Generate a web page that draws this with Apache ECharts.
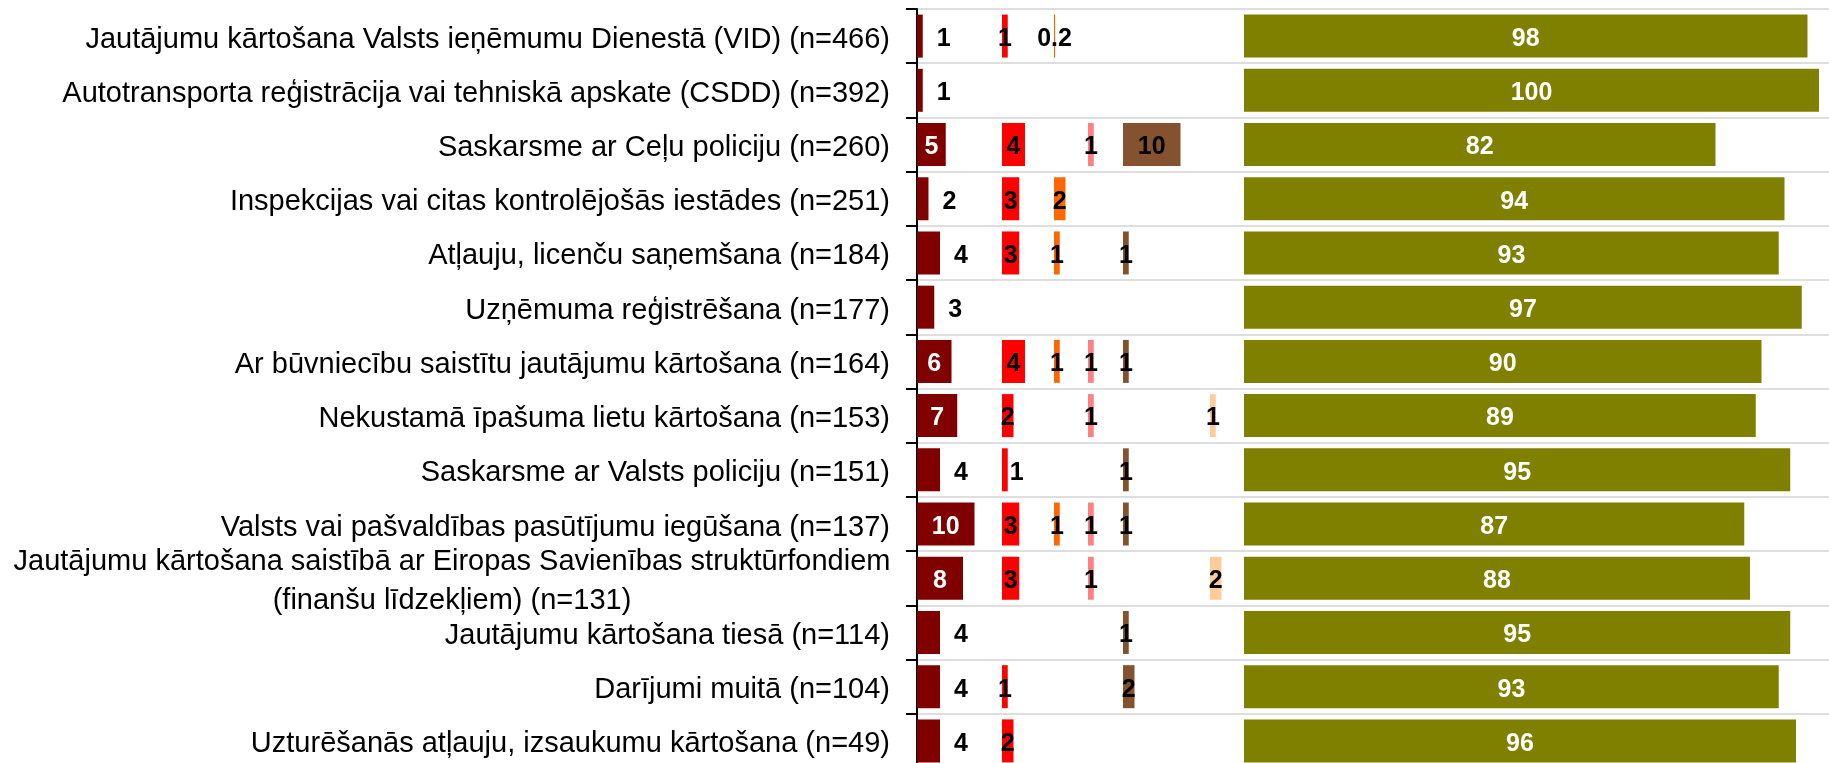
<!DOCTYPE html>
<html>
<head>
<meta charset="utf-8">
<script src="https://cdn.jsdelivr.net/npm/echarts@6/dist/echarts.min.js"></script>
<style>
  html, body { margin: 0; padding: 0; background: #fff; }
  #chart { width: 1829px; height: 763px; }
</style>
</head>
<body>
<div id="chart"></div>
<script>
// categories, top to bottom
const categories = [
  'Jautājumu kārtošana Valsts ieņēmumu Dienestā (VID) (n=466)',
  'Autotransporta reģistrācija vai tehniskā apskate (CSDD) (n=392)',
  'Saskarsme ar Ceļu policiju (n=260)',
  'Inspekcijas vai citas kontrolējošās iestādes (n=251)',
  'Atļauju, licenču saņemšana (n=184)',
  'Uzņēmuma reģistrēšana (n=177)',
  'Ar būvniecību saistītu jautājumu kārtošana (n=164)',
  'Nekustamā īpašuma lietu kārtošana (n=153)',
  'Saskarsme ar Valsts policiju (n=151)',
  'Valsts vai pašvaldības pasūtījumu iegūšana (n=137)',
  'Jautājumu kārtošana saistībā ar Eiropas Savienības struktūrfondiem\n(finanšu līdzekļiem) (n=131)',
  'Jautājumu kārtošana tiesā (n=114)',
  'Darījumi muitā (n=104)',
  'Uzturēšanās atļauju, izsaukumu kārtošana (n=49)'
];

const series1 = [1, 1, 5, 2, 4, 3, 6, 7, 4, 10, 8, 4, 4, 4];
const series2 = [1, null, 4, 3, 3, null, 4, 2, 1, 3, 3, null, 1, 2];
const series3 = [0.2, null, null, 2, 1, null, 1, null, null, 1, null, null, null, null];
const series4 = [null, null, 1, null, null, null, 1, 1, null, 1, 1, null, null, null];
const series5 = [null, null, 10, null, 1, null, 1, null, 1, 1, null, 1, 2, null];
const series6 = [null, null, null, null, null, null, null, 1, null, null, 2, null, null, null];
const series7 = [98, 100, 82, 94, 93, 97, 90, 89, 95, 87, 88, 95, 93, 96];

const chart = echarts.init(document.getElementById('chart'));

const PX_PER_UNIT = 5.75;
const GRID_TOP = 9;
const GRID_HEIGHT = 759;
const colLeft = [917, 1002, 1054, 1088, 1123, 1210, 1244];
const colRight = 1829;
const colors = ['#800000', '#ff0000', '#ff6600', '#ff8080', '#84522f', '#ffcc99', '#808000'];
const allSeries = [series1, series2, series3, series4, series5, series6, series7];

const FONT = 'Liberation Sans, Arial, sans-serif';
const labelFont = {
  fontFamily: FONT,
  fontSize: 25,
  fontWeight: 'bold'
};

const grids = [];
const xAxes = [];
const yAxes = [];
const seriesList = [];

colLeft.forEach((left, i) => {
  const right = i < colLeft.length - 1 ? colLeft[i + 1] : colRight;
  const width = right - left;
  grids.push({ left: left, top: GRID_TOP, width: width, height: GRID_HEIGHT, outerBoundsMode: 'none' });
  xAxes.push({ type: 'value', gridIndex: i, min: 0, max: width / PX_PER_UNIT, show: false });
  yAxes.push({ type: 'category', gridIndex: i, data: categories, inverse: true, show: false });

  const values = allSeries[i];
  const data = values.map((v, j) => {
    if (v == null) return null;
    // dark red: small values labelled beside the bar
    if (i === 0 && v < 5) {
      return { value: v, label: { position: 'right', distance: 14, color: '#000' } };
    }
    // red: the thin bar on the Valsts policiju row is labelled beside it
    if (i === 1 && j === 8) {
      return { value: v, label: { position: 'right', distance: 2, color: '#000' } };
    }
    return v;
  });

  seriesList.push({
    type: 'bar',
    xAxisIndex: i,
    yAxisIndex: i,
    data: data,
    barWidth: 43,
    itemStyle: { color: colors[i] },
    label: Object.assign({
      show: true,
      position: 'inside',
      offset: [0, 3],
      color: (i === 0 || i === 6) ? '#fff' : '#000'
    }, labelFont),
    z: 3
  });
});

// frame grid: category labels, axis line, ticks and row separators
grids.push({ left: 917, top: GRID_TOP, right: 0, height: GRID_HEIGHT, outerBoundsMode: 'none' });
xAxes.push({ type: 'value', gridIndex: 7, min: 0, max: 1, show: false });
yAxes.push({
  type: 'category',
  gridIndex: 7,
  data: categories,
  inverse: true,
  axisLine: { show: true, lineStyle: { color: '#000', width: 2 } },
  axisTick: { show: true, length: 11, lineStyle: { color: '#000', width: 2 } },
  splitLine: { show: true, lineStyle: { color: '#dedede', width: 2 } },
  axisLabel: {
    margin: 27,
    color: '#000',
    fontFamily: FONT,
    fontSize: 29,
    padding: [7, 0, 0, 0],
    formatter: function (val) {
      if (val.indexOf('\n') < 0) return val;
      return val.split('\n').map(s => '{w|' + s + '}').join('\n');
    },
    rich: {
      w: {
        width: 876,
        align: 'center',
        fontSize: 29,
        lineHeight: 39,
        fontFamily: FONT,
        color: '#000'
      }
    }
  }
});

chart.setOption({
  animation: false,
  backgroundColor: '#fff',
  grid: grids,
  xAxis: xAxes,
  yAxis: yAxes,
  series: seriesList
});
</script>
</body>
</html>
